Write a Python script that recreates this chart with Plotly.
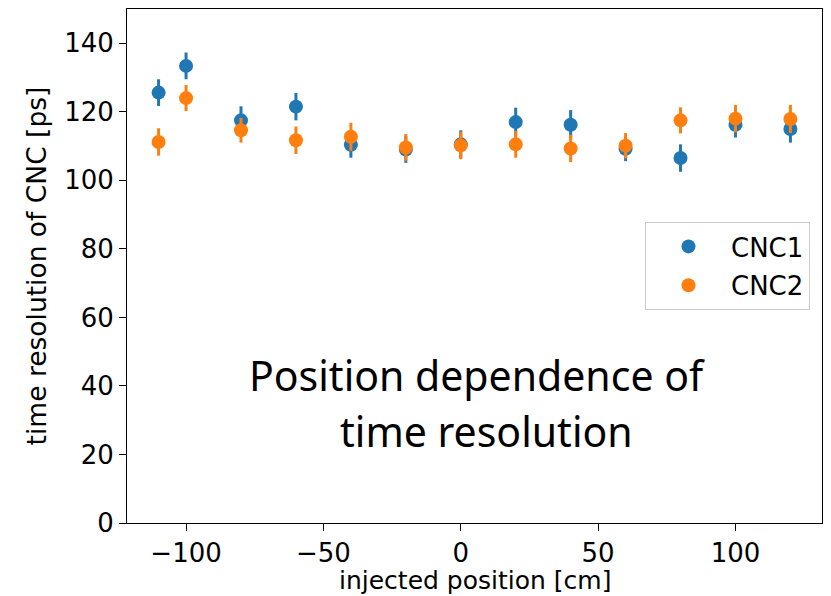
import plotly.graph_objects as go

positions = [-110, -100, -80, -60, -40, -20, 0, 20, 40, 60, 80, 100, 120]
cnc1 = [125.6, 133.4, 117.5, 121.5, 110.4, 109.0, 110.5, 117.0, 116.2, 109.2, 106.5, 116.2, 115.0]
cnc1_err = [3.9, 3.9, 4.1, 4.0, 3.8, 3.9, 4.1, 4.2, 4.3, 3.6, 4.0, 3.7, 4.0]
cnc2 = [111.2, 124.0, 114.6, 111.7, 112.7, 109.6, 110.2, 110.5, 109.3, 110.1, 117.5, 118.0, 117.9]
cnc2_err = [4.0, 3.8, 3.6, 4.0, 4.1, 3.9, 4.0, 3.9, 4.0, 3.7, 3.8, 4.0, 4.1]

BLUE = "#1f77b4"
ORANGE = "#ff7f0e"
FONT = "DejaVu Sans"

# page body has an 8px margin; plot area targeted at x 127..822, y 9..523 on screen
OFF = 8
L, R, T, B = 127, 822, 9, 523
W, H = 831, 596

fig = go.Figure()
for name, ys, errs, col in [("CNC1", cnc1, cnc1_err, BLUE), ("CNC2", cnc2, cnc2_err, ORANGE)]:
    fig.add_trace(go.Scatter(
        x=positions, y=ys, mode="markers", name=name,
        marker=dict(color=col, size=14, line=dict(width=0)),
        error_y=dict(type="data", array=errs, visible=True, color=col, thickness=3, width=0),
        legendgroup=name,
    ))

def px_x(x):
    return (x - L) / (R - L)

def px_y(y):
    return (B - y) / (B - T)

fig.add_annotation(xref="paper", yref="paper", x=px_x(476.5), y=px_y(375),
                   text="Position dependence of", showarrow=False,
                   font=dict(family="Noto Sans", size=41, color="black"),
                   xanchor="center", yanchor="middle")
fig.add_annotation(xref="paper", yref="paper", x=px_x(486), y=px_y(431),
                   text="time resolution", showarrow=False,
                   font=dict(family="Noto Sans", size=41, color="black"),
                   xanchor="center", yanchor="middle")
# x-axis title placed explicitly so it stays inside the page
fig.add_annotation(xref="paper", yref="paper", x=0.5, y=px_y(580.5),
                   text="injected position [cm]", showarrow=False, borderpad=0,
                   font=dict(family=FONT, size=25, color="black"),
                   xanchor="center", yanchor="middle")

axis_common = dict(
    showline=True, linecolor="black", linewidth=1, mirror=True,
    ticks="outside", ticklen=7, tickwidth=1, tickcolor="black",
    showgrid=False, zeroline=False,
    tickfont=dict(family=FONT, size=26, color="black"),
)

fig.update_xaxes(range=[-121.5, 131.5], tickmode="array", tickvals=[-100, -50, 0, 50, 100],
                 ticktext=["\u2212100", "\u221250", "0", "50", "100"],
                 **axis_common)
fig.update_yaxes(range=[0, 150], tickmode="array", tickvals=[0, 20, 40, 60, 80, 100, 120, 140],
                 title=dict(text="time resolution of CNC [ps]", font=dict(family=FONT, size=26.5, color="black"), standoff=9),
                 **axis_common)

fig.update_layout(
    width=W, height=H,
    margin=dict(l=L - OFF, r=W - R + OFF, t=T - OFF, b=H - B + OFF, autoexpand=False),
    plot_bgcolor="white", paper_bgcolor="white",
    showlegend=True,
    legend=dict(
        x=px_x(810), y=px_y(222), xanchor="right", yanchor="top",
        bgcolor="rgba(255,255,255,0.8)", bordercolor="#cccccc", borderwidth=1,
        font=dict(family=FONT, size=26, color="black"),
        itemwidth=75, traceorder="grouped", tracegroupgap=2,
    ),
)

fig.write_html("out.html")
